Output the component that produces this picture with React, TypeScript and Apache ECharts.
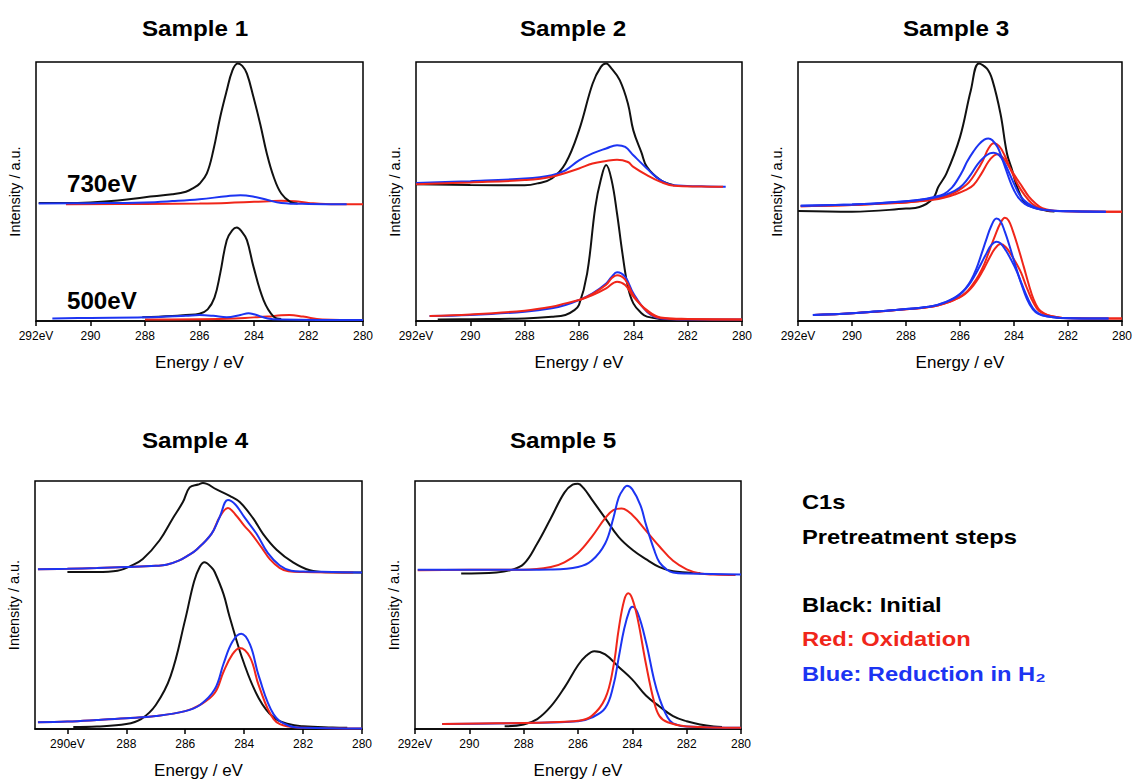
import React, { useEffect, useRef } from "react";
import * as echarts from "echarts";

type Pt = [number, number];

// ---------- Sample 1 ----------
const s1Black730: Pt[] = [[291.9,45.6],[291,45.6],[290,45.8],[289,46.5],[288,47.8],[287,48.9],[286.5,49.9],[286.2,51.5],[286,53],[285.73,57],[285.49,66],[285.24,78.8],[285,89],[284.8,96.5],[284.6,99.4],[284.43,98.5],[284.26,95.5],[284.02,86.5],[283.77,76],[283.53,64.7],[283.28,55.7],[283,49.2],[282.67,46],[282.4,45.4]];
const s1Blue730: Pt[] = [[291.9,45.4],[290,45.5],[288,45.8],[287,46.3],[286,47],[285,48.2],[284.5,48.6],[284,48],[283.5,46.7],[283,45.6],[282,45.2],[280.6,45.1]];
const s1Red730: Pt[] = [[290.9,45.1],[288,45.2],[286,45.4],[285,45.6],[284,46],[283,46.4],[282.5,46.2],[282,45.6],[281,45.1],[280,45.1]];
const s1Black500: Pt[] = [[288.1,1.4],[287,1.9],[286.5,2.3],[286,2.8],[285.7,4.5],[285.45,9],[285.24,18.4],[285,31.2],[284.8,35],[284.63,36.1],[284.45,34.5],[284.26,31.2],[284.02,21],[283.65,8.1],[283.28,1.7],[283,0.8]];
const s1Blue500: Pt[] = [[291.4,1],[290,1.2],[288,1.4],[286.5,2],[286,2.3],[285.5,2],[285,1.4],[284.5,2.3],[284.2,3],[284,2.6],[283.5,1],[283,0.6],[280,0.4]];
const s1Red500: Pt[] = [[288,0.6],[285,0.9],[284,1.4],[283.5,1.7],[283,2.2],[282.7,2.3],[282.2,1.7],[281.5,0.6],[280,0.4]];

// ---------- Sample 2 ----------
const s2BlackTop: Pt[] = [[292,52.8],[290,52.5],[288,52.4],[287.5,53.2],[287,55],[286.5,60.8],[286,73.6],[285.5,91.6],[285.2,98],[285,99.4],[284.8,97.4],[284.5,93],[284.2,84],[284,73.6],[283.7,65],[283.5,59.5],[283,54.4],[282.5,52.4]];
const s2BlueTop: Pt[] = [[292,53.3],[290,54],[288,55],[287,56.3],[286.5,58.2],[286,62],[285.5,64.7],[285,66.6],[284.6,67.9],[284.3,67.2],[284,64],[283.5,58.9],[283,54.4],[282.5,52.4],[281.5,52],[280.6,51.8]];
const s2RedTop: Pt[] = [[292,52.8],[290,53.5],[288,54.4],[287,55.7],[286,58.9],[285.5,60.8],[285,61.8],[284.6,62.3],[284.2,61.4],[284,59.5],[283.5,56.3],[283,53.7],[282.5,52.2],[281.5,51.9],[280.7,51.8]];
const s2BlackBot: Pt[] = [[291.2,0.6],[290,0.7],[288,1],[287,1.6],[286.5,2.3],[286.2,4],[286,6.2],[285.7,18.4],[285.4,44],[285.2,54.4],[285,60.2],[284.8,54.4],[284.6,41.5],[284.4,26],[284.2,13.2],[284,6.8],[283.7,3],[283.5,1.7],[283,0.8],[282.5,0.6]];
const s2BlueBot: Pt[] = [[291.5,1.9],[290,2.3],[288,3.6],[287,4.9],[286.5,6.2],[286,8.1],[285.5,10.7],[285,14.5],[284.8,17],[284.6,18.8],[284.3,17],[284,10.7],[283.5,3.6],[283,1],[282,0.6],[280,0.6]];
const s2RedBot: Pt[] = [[291.5,1.9],[290,2.5],[288,4],[287,5.5],[286.5,6.8],[286,8.1],[285.5,10],[285,12.6],[284.6,15.2],[284.3,13.9],[284,9.4],[283.5,4.2],[283,1.4],[282,0.8],[280,0.6]];
const s2RedBot2: Pt[] = [[286,8],[285.5,10.5],[285,14],[284.8,16.5],[284.6,17.7],[284.3,16],[284,10],[283.5,3.8],[283,1.2],[282,0.7],[280,0.6]];

// ---------- Sample 3 ----------
const s3BlackTop: Pt[] = [[292,42.5],[290,42.2],[288,43.4],[287.5,44],[287,47.3],[286.8,51.8],[286.5,57],[286,71],[285.6,89],[285.3,99.4],[285,97.4],[284.8,93],[284.5,80],[284.26,64.7],[284.07,58.3],[283.89,51.9],[283.58,45.4],[283.2,43.6],[282.8,42.6],[282.5,42.3]];
const s3BlueTopA: Pt[] = [[291.9,44.5],[290,45],[289,45.5],[288,46.2],[287.5,46.8],[287,47.8],[286.6,49],[286.3,51.5],[286.1,54.4],[285.9,58],[285.74,61.5],[285.5,65.5],[285.3,68.2],[285.1,70],[284.95,70.5],[284.8,69.8],[284.6,67],[284.45,63],[284.3,58.5],[284.16,54.4],[284,50.5],[283.83,47.5],[283.6,45.2],[283.3,43.8],[283,43],[282.5,42.5],[281.5,42.3],[280.6,42.2]];
const s3BlueTopB: Pt[] = [[291.9,44.5],[290,45],[289,45.5],[288,46.2],[287.5,46.7],[287,47.5],[286.6,48.5],[286.2,50.2],[285.9,52.5],[285.6,56.5],[285.35,60.5],[285.1,63.3],[284.9,64.7],[284.75,65],[284.55,64],[284.35,61],[284.15,56.5],[283.95,51.9],[283.75,48],[283.5,45.5],[283.2,43.8],[282.9,43],[282.3,42.5],[280.6,42.2]];
const s3RedTopA: Pt[] = [[291.9,44.3],[290,44.8],[289,45.3],[288,45.8],[287.5,46.3],[287,47],[286.6,48],[286.2,49.6],[285.9,51.5],[285.67,53.5],[285.4,57.5],[285.15,62],[284.95,66.5],[284.75,68.6],[284.55,67.5],[284.35,64],[284.1,58],[283.85,52.5],[283.6,48.5],[283.35,45.5],[283.1,43.8],[282.8,42.8],[282,42.4],[280,42.2]];
const s3RedTopB: Pt[] = [[291.9,44.3],[290,44.8],[289,45.3],[288,45.8],[287.5,46.2],[287,46.8],[286.6,47.6],[286.2,48.8],[285.8,50.5],[285.5,52.5],[285.2,57],[284.95,61.5],[284.75,63.8],[284.6,64.4],[284.4,63],[284.15,59],[283.9,55],[283.7,51.9],[283.45,48],[283.2,45.4],[282.95,43.6],[282.6,42.7],[282,42.4],[280,42.2]];
const s3BlueBotA: Pt[] = [[291.45,2.3],[290,3],[289,3.8],[288,4.6],[287,5.8],[286.5,7.5],[286.2,9],[286,10.5],[285.8,12.5],[285.6,15.5],[285.4,20],[285.2,26],[285.03,31.3],[284.85,36.5],[284.65,39.6],[284.5,38.5],[284.34,34.5],[284.15,28.5],[283.95,21.5],[283.75,15],[283.52,8.5],[283.3,4.5],[283.1,2.8],[282.8,1.8],[282.3,1.2],[280.5,1]];
const s3BlueBotB: Pt[] = [[291.45,2.3],[290,3],[289,3.8],[288,4.6],[287,5.8],[286.5,7.4],[286.2,8.8],[286,10.2],[285.8,12.3],[285.6,15],[285.4,18.5],[285.2,22.5],[285,26.5],[284.85,29.2],[284.65,30.6],[284.5,30],[284.3,27.2],[284.1,23.5],[283.89,19],[283.7,14],[283.5,9],[283.3,5],[283.1,3],[282.8,1.8],[282.3,1.2],[280.5,1]];
const s3RedBotA: Pt[] = [[291.4,2.3],[290,3],[289,3.7],[288,4.5],[287,5.6],[286.5,7],[286.2,8.3],[285.9,10],[285.7,11.8],[285.5,14.5],[285.3,17.8],[285.1,22],[284.9,27.5],[284.7,33],[284.5,37.8],[284.34,39.9],[284.2,38.8],[284.05,35],[283.85,28.5],[283.64,21],[283.45,14],[283.28,8.5],[283.1,4.8],[282.9,3],[282.6,1.8],[282.2,1.2],[280,1]];
const s3RedBotB: Pt[] = [[291.4,2.3],[290,3],[289,3.7],[288,4.5],[287,5.6],[286.5,7],[286.2,8.2],[285.9,9.8],[285.7,11.5],[285.5,13.8],[285.3,16.8],[285.1,20.5],[284.9,24.5],[284.7,28],[284.5,29.7],[284.3,28.5],[284.1,25.5],[283.9,22],[283.73,18.5],[283.55,13.5],[283.35,8.5],[283.15,4.8],[282.95,3],[282.6,1.8],[282.2,1.2],[280,1]];

// ---------- Sample 4 ----------
const s4BlackTop: Pt[] = [[290,63.3],[289,63.3],[288.3,63.8],[287.83,65.9],[287.44,68.5],[286.87,76.1],[286.42,85],[286.08,91.5],[285.85,97.4],[285.56,98.6],[285.4,99.2],[284.94,96.6],[284.49,94],[284.15,91.5],[283.7,85],[283.36,78.7],[282.9,72.3],[282.34,67.2],[281.77,64],[281.2,63.2],[280,63.1]];
const s4BlueTop: Pt[] = [[291,64.4],[290,64.6],[289,64.9],[288,65.3],[287,65.8],[286.64,66.2],[286.2,68],[285.9,70],[285.62,72.3],[285.11,78.7],[284.83,85.5],[284.55,92.3],[284.3,90.5],[284,85.5],[283.58,78.7],[283.2,71],[282.79,65.9],[282.4,63.8],[282,63.5],[281,63.3],[280,63.1]];
const s4RedTop: Pt[] = [[291,64.4],[290,64.6],[289,64.9],[288,65.3],[287,65.8],[286.64,66.2],[286.2,68],[285.9,70],[285.62,72.3],[285.11,78.7],[284.83,85.5],[284.55,89.1],[284.3,86.5],[284,82],[283.75,78.7],[283.4,73],[283.13,68.5],[282.8,65],[282.5,63.6],[282,63.3],[280.3,63.1]];
const s4BlackBot: Pt[] = [[289.8,0.8],[289,1],[288,2],[287.5,4],[287,9.7],[286.5,21.2],[286,44.2],[285.7,59.5],[285.5,65.5],[285.35,67.2],[285.1,65],[285,63.3],[284.7,54.4],[284.5,45.5],[284,26.3],[283.5,12.3],[283,4.6],[282.5,2],[282,1.1],[281,0.6],[280.5,0.5]];
const s4BlueBot: Pt[] = [[291,2.7],[290,3],[289,3.6],[288,4.3],[287,5.2],[286,7.2],[285.5,9.7],[285,16],[284.7,26.3],[284.4,35.2],[284.1,38.4],[283.8,34],[283.5,21.2],[283,5.9],[282.5,1.4],[282,0.5],[280,0.2]];
const s4RedBot: Pt[] = [[291,2.7],[290,3],[289,3.6],[288,4.3],[287,5.2],[286,7.2],[285.5,9.7],[285,14.5],[284.7,23.1],[284.4,30.1],[284.15,32.7],[283.8,28.9],[283.5,17.4],[283,4],[282.5,1],[282,0.5],[280,0.2]];

// ---------- Sample 5 ----------
const s5BlackTop: Pt[] = [[290.3,62.7],[289,63.1],[288.5,64],[288,66.5],[287.5,74.8],[287,85],[286.5,95.3],[286.2,98.5],[286,98.9],[285.8,97.2],[285.5,92.7],[285,85],[284.5,77.4],[284,72.3],[283.5,68.5],[283,65.3],[282.5,63.6],[282,63.1],[281.5,62.8]];
const s5RedTop: Pt[] = [[291.9,64],[289,64.2],[288,64.2],[287,65.3],[286.5,67.2],[286,71],[285.5,77.4],[285,85],[284.7,88.3],[284.4,88.9],[284,86.3],[283.5,80],[283,73.6],[282.5,67.8],[282,64.4],[281.5,62.7],[281,62.3],[280.2,62.1]];
const s5BlueTop: Pt[] = [[291.9,64.2],[288,64.2],[287,64.3],[286,65.3],[285.5,67.8],[285,74.8],[284.7,85],[284.5,93.4],[284.3,97.2],[284.2,98.1],[284,96.6],[283.7,90.2],[283.5,82.5],[283.2,72.3],[283,67.2],[282.7,64],[282.5,63.1],[282,62.7],[280,62.3]];
const s5BlackBot: Pt[] = [[288.7,1.1],[288,1.8],[287.5,4],[287,9.1],[286.5,16.7],[286,25.7],[285.7,29.5],[285.4,31.4],[285,30.1],[284.5,25],[284,19.9],[283.5,13.5],[283,9.1],[282.5,5.2],[282,3.1],[281.5,1.8],[281,1],[280.7,0.8]];
const s5RedBot: Pt[] = [[291,2],[289,2.3],[288,2.4],[287,2.7],[286,3.3],[285.5,5.2],[285,12.3],[284.7,25],[284.5,40.4],[284.3,51.9],[284.15,54.7],[284,52.5],[283.8,44.2],[283.5,26.3],[283.2,11],[283,5.2],[282.7,2.7],[282,1],[280,0.5]];
const s5BlueBot: Pt[] = [[291,2],[288,2.4],[286,3.1],[285.5,4.6],[285,8.4],[284.7,17.4],[284.5,28.9],[284.3,40.4],[284.1,48],[284,49.3],[283.8,46.7],[283.5,35.2],[283.2,19.9],[283,12.3],[282.7,4.6],[282.5,2.3],[282,1],[280,0.5]];

// ---------- axes / labels ----------
const sampleTitles = ["Sample 1", "Sample 2", "Sample 3", "Sample 4", "Sample 5"];
const xTicksFull = [292, 290, 288, 286, 284, 282, 280];
const xTicksP4 = [290, 288, 286, 284, 282, 280];
const xMaxes = [292, 292, 292, 291.1, 292];
const legendLines = ["C1s", "Pretreatment steps", "Black: Initial", "Red: Oxidation", "Blue: Reduction in H₂"];
const energyLabels = ["730eV", "500eV"];

const BLACK = "#111111";
const RED = "#f0261a";
const BLUE = "#1c34f2";
const FONT = "'Liberation Sans', Arial, Helvetica, sans-serif";

const panelCurves: [Pt[], string][][] = [
  [[s1Red730, RED], [s1Black730, BLACK], [s1Blue730, BLUE], [s1Red500, RED], [s1Black500, BLACK], [s1Blue500, BLUE]],
  [[s2BlackTop, BLACK], [s2BlueTop, BLUE], [s2RedTop, RED], [s2BlackBot, BLACK], [s2BlueBot, BLUE], [s2RedBot2, RED], [s2RedBot, RED]],
  [[s3BlackTop, BLACK], [s3RedTopA, RED], [s3RedTopB, RED], [s3BlueTopA, BLUE], [s3BlueTopB, BLUE], [s3RedBotA, RED], [s3RedBotB, RED], [s3BlueBotA, BLUE], [s3BlueBotB, BLUE]],
  [[s4BlackTop, BLACK], [s4RedTop, RED], [s4BlueTop, BLUE], [s4BlackBot, BLACK], [s4RedBot, RED], [s4BlueBot, BLUE]],
  [[s5BlackTop, BLACK], [s5RedTop, RED], [s5BlueTop, BLUE], [s5BlackBot, BLACK], [s5BlueBot, BLUE], [s5RedBot, RED]],
];

const gridBoxes = [
  { left: 36, top: 62, width: 327, height: 259 },
  { left: 416, top: 62, width: 326, height: 259 },
  { left: 798, top: 62, width: 326, height: 259 },
  { left: 35, top: 481, width: 327, height: 261 },
  { left: 415, top: 481, width: 326, height: 261 },
];
const titlePos = [[195, 28], [573, 28], [956, 28], [195, 440], [563, 440]];

export default function App() {
  const ref = useRef<HTMLDivElement>(null);
  useEffect(() => {
    document.body.style.margin = "0";
    if (!ref.current) return;
    const chart = echarts.init(ref.current, undefined, { renderer: "svg" });

    const grid = gridBoxes.map((g) => ({
      ...g,
      show: true,
      borderColor: "#000",
      borderWidth: 1.5,
      backgroundColor: "transparent",
    }));

    const xAxis = xMaxes.map((mx, i) => {
      const ticks = i === 3 ? xTicksP4 : xTicksFull;
      const evTick = ticks[0];
      return {
        gridIndex: i,
        type: "value",
        inverse: true,
        min: 280,
        max: mx,
        axisLine: { show: true, lineStyle: { color: "#000", width: 1.5 } },
        axisTick: { show: true, inside: false, length: 5, customValues: ticks, lineStyle: { color: "#000", width: 1.5 } },
        axisLabel: {
          show: true,
          customValues: ticks,
          color: "#000",
          fontSize: 12,
          fontFamily: FONT,
          margin: 9,
          formatter: (v: number) => (v === evTick ? `${v}eV` : `${v}`),
        },
        splitLine: { show: false },
        name: "Energy / eV",
        nameLocation: "middle",
        nameGap: 33,
        nameTextStyle: { color: "#000", fontSize: 17, fontFamily: FONT },
      };
    });

    const yAxis = xMaxes.map((_, i) => ({
      gridIndex: i,
      type: "value",
      min: 0,
      max: 100,
      axisLine: { show: false },
      axisTick: { show: false },
      axisLabel: { show: false },
      splitLine: { show: false },
      name: "Intensity / a.u.",
      nameLocation: "middle",
      nameRotate: 90,
      nameGap: 14,
      nameTextStyle: { color: "#000", fontSize: 14.5, fontFamily: FONT },
    }));

    const series: any[] = [];
    panelCurves.forEach((curves, i) => {
      curves.forEach(([data, color]) => {
        series.push({
          type: "line",
          xAxisIndex: i,
          yAxisIndex: i,
          data,
          showSymbol: false,
          smooth: 0.4,
          silent: true,
          lineStyle: { color, width: 2 },
        });
      });
    });

    const graphic: any[] = [];
    sampleTitles.forEach((t, i) => {
      graphic.push({
        type: "text",
        x: titlePos[i][0],
        y: titlePos[i][1],
        scaleX: 1.1,
        style: { text: t, font: `bold 22px ${FONT}`, fill: "#000", align: "center", verticalAlign: "middle" },
      });
    });
    graphic.push({
      type: "text", x: 67, y: 184, scaleX: 1.05,
      style: { text: energyLabels[0], font: `bold 23px ${FONT}`, fill: "#000", align: "left", verticalAlign: "middle" },
    });
    graphic.push({
      type: "text", x: 67, y: 301, scaleX: 1.05,
      style: { text: energyLabels[1], font: `bold 23px ${FONT}`, fill: "#000", align: "left", verticalAlign: "middle" },
    });
    const legendY = [502, 537, 605, 639, 674];
    const legendColors = ["#000", "#000", "#000", RED, BLUE];
    legendLines.forEach((t, i) => {
      graphic.push({
        type: "text", x: 802, y: legendY[i], scaleX: 1.13,
        style: { text: t, font: `bold 21px ${FONT}`, fill: legendColors[i], align: "left", verticalAlign: "middle" },
      });
    });

    chart.setOption({
      animation: false,
      backgroundColor: "#fff",
      textStyle: { fontFamily: FONT },
      grid,
      xAxis,
      yAxis,
      series,
      graphic,
    } as any);

    return () => chart.dispose();
  }, []);

  return <div ref={ref} style={{ width: 1135, height: 780 }} />;
}
